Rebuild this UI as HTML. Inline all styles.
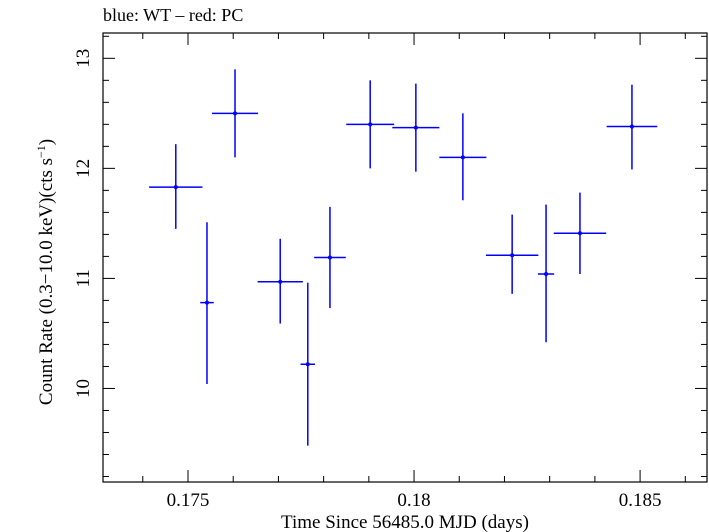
<!DOCTYPE html>
<html><head><meta charset="utf-8"><style>
html,body{margin:0;padding:0;background:#fff;}
svg{display:block;font-family:"Liberation Serif","DejaVu Serif",serif;}
</style></head><body>
<svg id="chart" width="709" height="532" viewBox="0 0 709 532">
<text x="103" y="21" font-size="18">blue: WT – red: PC</text>
<rect x="103" y="33" width="604" height="449" fill="none" stroke="#000" stroke-width="1.2"/>
<g id="ticks"></g>
<g id="series"></g>
<text x="405" y="528" font-size="19" text-anchor="middle">Time Since 56485.0 MJD (days)</text>
<text transform="translate(52,272) rotate(-90)" font-size="19" text-anchor="middle">Count Rate (0.3−10.0 keV)(cts s<tspan baseline-shift="super" font-size="12">−1</tspan>)</text>
</svg>
<script>
const times=[0.17473,0.17542,0.17604,0.17704,0.17765,0.17814,0.17903,0.18004,0.18108,0.18217,0.18292,0.18367,0.18482];
const timeErr=[0.00059,0.00015,0.00051,0.00050,0.00016,0.00035,0.00053,0.00052,0.00052,0.00058,0.00018,0.00058,0.00056];
const rates=[11.83,10.78,12.50,10.97,10.22,11.19,12.40,12.37,12.10,11.21,11.04,11.41,12.38];
const rateLo=[11.45,10.04,12.10,10.59,9.48,10.73,12.00,11.97,11.71,10.86,10.42,11.04,11.99];
const rateHi=[12.22,11.51,12.90,11.36,10.96,11.65,12.80,12.77,12.50,11.58,11.67,11.78,12.76];
const xTickLabels=["0.175","0.18","0.185"];
const yTickLabels=["10","11","12","13"];
const X0=103,X1=707,Y0=482,Y1=33,xmin=0.17312,xmax=0.18648,ymin=9.15,ymax=13.23;
const sx=v=>X0+(v-xmin)/(xmax-xmin)*(X1-X0);
const sy=v=>Y0-(v-ymin)/(ymax-ymin)*(Y0-Y1);
const NS="http://www.w3.org/2000/svg";
function mk(tag,attrs,parent){const e=document.createElementNS(NS,tag);for(const k in attrs)e.setAttribute(k,attrs[k]);parent.appendChild(e);return e;}
const tg=document.getElementById('ticks');
for(let i=0;i<=13;i++){const v=0.174+i*0.001;if(v<xmin||v>xmax)continue;const x=sx(v);const major=Math.abs((v*1000)%5)<1e-6||Math.abs((v*1000)%5-5)<1e-6;const L=major?12:6;
const a=mk('line',{x1:x,x2:x,y1:Y0,y2:Y0-L,stroke:'#000','stroke-width':1},tg);


const b=mk('line',{x1:x,x2:x,y1:Y1,y2:Y1+L,stroke:'#000','stroke-width':1},tg);

}
xTickLabels.forEach(s=>{const t=mk('text',{x:sx(parseFloat(s)),y:506,'font-size':19,'text-anchor':'middle'},tg);t.textContent=s;

});
for(let i=0;i<=25;i++){const v=9.2+i*0.2;if(v<ymin||v>ymax)continue;const y=sy(v);const major=Math.abs(v-Math.round(v))<1e-6;const L=major?12:6;
const a=mk('line',{x1:X0,x2:X0+L,y1:y,y2:y,stroke:'#000','stroke-width':1},tg);


const b=mk('line',{x1:X1,x2:X1-L,y1:y,y2:y,stroke:'#000','stroke-width':1},tg);

}
yTickLabels.forEach(s=>{const y=sy(parseFloat(s));const t=mk('text',{transform:`translate(89,${y}) rotate(-90)`,'font-size':19,'text-anchor':'middle'},tg);t.textContent=s;

});
const sg=document.getElementById('series');
times.forEach((t,i)=>{const g=mk('g',{},sg);


mk('line',{x1:sx(t-timeErr[i]),x2:sx(t+timeErr[i]),y1:sy(rates[i]),y2:sy(rates[i]),stroke:'#0000ff','stroke-width':1.5},g);
mk('line',{x1:sx(t),x2:sx(t),y1:sy(rateLo[i]),y2:sy(rateHi[i]),stroke:'#0000ff','stroke-width':1.5},g);
mk('circle',{cx:sx(t),cy:sy(rates[i]),r:2,fill:'#0000ff'},g);});
</script>
</body></html>
